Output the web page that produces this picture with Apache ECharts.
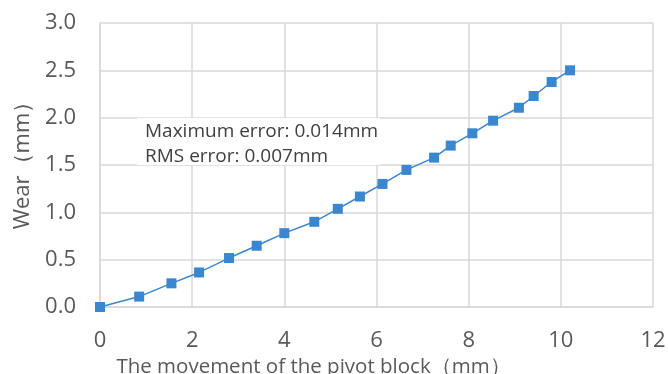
<!DOCTYPE html>
<html>
<head>
<meta charset="utf-8">
<script src="https://cdn.jsdelivr.net/npm/echarts@6/dist/echarts.min.js"></script>
<style>
  html, body { margin: 0; padding: 0; background: #fff; }
  #chart { width: 669px; height: 374px; }
</style>
</head>
<body>
<div id="chart"></div>
<script>
// Pivot block movement (mm) and measured wear (mm)
const movement = [0, 0.85, 1.55, 2.15, 2.8, 3.4, 4.0, 4.65, 5.16, 5.64, 6.13, 6.65, 7.25, 7.61, 8.08, 8.53, 9.09, 9.41, 9.8, 10.2];
const wear = [0, 0.11, 0.25, 0.365, 0.517, 0.647, 0.78, 0.9, 1.037, 1.167, 1.3, 1.448, 1.578, 1.705, 1.835, 1.968, 2.105, 2.229, 2.377, 2.5];
const errorNotes = ['Maximum error: 0.014mm', 'RMS error: 0.007mm'];
const xTitle = 'The movement of the pivot block（mm）';
const yTitle = 'Wear（mm）';

const fontFamily = '"Open Sans", "Noto Sans", sans-serif';
const textColor = '#595959';
const gridColor = '#d9d9d9';
const lineColor = '#3a86d0';

const chart = echarts.init(document.getElementById('chart'), null, { renderer: 'canvas' });

chart.setOption({
  animation: false,
  grid: {
    left: 100, right: 16, top: 23, bottom: 67,
    containLabel: false,
    outerBoundsMode: 'none'
  },
  xAxis: {
    type: 'value',
    min: 0, max: 12, interval: 2,
    name: xTitle,
    nameLocation: 'middle',
    nameGap: 50,
    nameTextStyle: { fontFamily, fontSize: 20.5, color: textColor, padding: [0, 126, 0, 0] },
    axisLine: { show: true, lineStyle: { color: gridColor, width: 1.5 } },
    axisTick: { show: false },
    axisLabel: { fontFamily, fontSize: 22, color: textColor, margin: 23 },
    splitLine: { show: true, lineStyle: { color: gridColor, width: 1.5 } }
  },
  yAxis: {
    type: 'value',
    min: 0, max: 3, interval: 0.5,
    name: yTitle,
    nameLocation: 'middle',
    nameGap: 64,
    nameTextStyle: { fontFamily, fontSize: 22, color: textColor, padding: [0, 0, 0, 10] },
    axisLine: { show: true, lineStyle: { color: gridColor, width: 1.5 } },
    axisTick: { show: false },
    axisLabel: {
      fontFamily, fontSize: 22, color: textColor, margin: 24,
      formatter: v => v.toFixed(1)
    },
    splitLine: { show: true, lineStyle: { color: gridColor, width: 1.5 } }
  },
  graphic: [
    {
      type: 'rect',
      z: 1,
      shape: { x: 137, y: 118, width: 243, height: 47 },
      style: { fill: '#ffffff' }
    },
    {
      type: 'text',
      z: 2,
      left: 145,
      top: 119,
      style: {
        text: errorNotes.join('\n'),
        fontFamily,
        fontSize: 19,
        lineHeight: 25,
        fill: '#404040'
      }
    }
  ],
  series: [
    {
      type: 'line',
      data: movement.map((x, i) => [x, wear[i]]),
      symbol: 'rect',
      symbolSize: 10,
      showAllSymbol: true,
      lineStyle: { color: lineColor, width: 1.5 },
      itemStyle: { color: lineColor },
      z: 5
    }
  ]
});
</script>
</body>
</html>
